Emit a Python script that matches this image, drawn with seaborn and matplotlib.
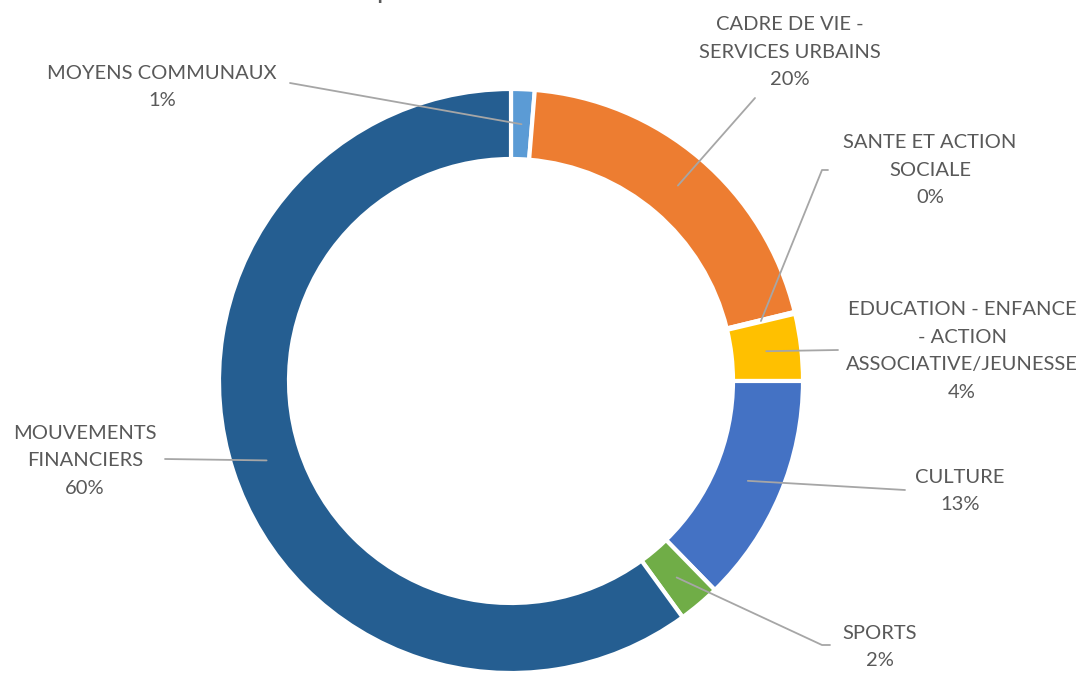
import numpy as np
import matplotlib
matplotlib.use("Agg")
from matplotlib import pyplot as plt
import seaborn as sns

categories = ["MOYENS COMMUNAUX", "CADRE DE VIE -\nSERVICES URBAINS", "SANTE ET ACTION\nSOCIALE",
              "EDUCATION - ENFANCE\n- ACTION\nASSOCIATIVE/JEUNESSE", "CULTURE", "SPORTS",
              "MOUVEMENTS\nFINANCIERS"]
values = [1.3, 19.9, 0.1, 3.7, 12.7, 2.3, 60.0]
pct_labels = ["1%", "20%", "0%", "4%", "13%", "2%", "60%"]
colors = ["#5B9BD5", "#ED7D31", "#A5A5A5", "#FFC000", "#4472C4", "#70AD47", "#255E91"]

sns.set_theme(style="white")
plt.rcParams["font.family"] = ["Lato", "DejaVu Sans"]

W, H = 1083, 675
fig = plt.figure(figsize=(W / 100, H / 100), dpi=100)
ax = fig.add_axes([0, 0, 1, 1])

cx, cy = 511, H - 381
r_out, ring = 292, 70
wedges, _ = ax.pie(values, colors=colors, startangle=90, counterclock=False,
                   center=(cx, cy), radius=r_out, frame=True,
                   wedgeprops=dict(width=ring, edgecolor="white", linewidth=3))
ax.set_xlim(0, W)
ax.set_ylim(0, H)
ax.set_aspect("equal")
ax.axis("off")

# label layout (image pixel coords of text centre, and where the leader line starts)
label_pos = [(162, 87), (790, 52), (930, 170), (962, 351), (960, 491), (880, 647), (85, 461)]
line_start = [(290, 83), (755, 98), (828, 170), (838, 350), (905, 490), (830, 645), (165, 459)]
line_kink = [None, None, (822, 170), None, None, (822, 645), None]

r_mid = r_out - ring / 2
grey_txt = "#595959"
for w, cat, pct, (lx, ly), (sx, sy), kink in zip(wedges, categories, pct_labels,
                                                 label_pos, line_start, line_kink):
    ang = np.deg2rad((w.theta1 + w.theta2) / 2)
    ex, ey = cx + r_mid * np.cos(ang), cy + r_mid * np.sin(ang)
    xs, ys = [sx], [H - sy]
    if kink is not None:
        xs.append(kink[0])
        ys.append(H - kink[1])
    xs.append(ex)
    ys.append(ey)
    ax.plot(xs, ys, color="#A6A6A6", lw=1.3, zorder=3)
    ax.text(lx, H - ly, cat + "\n" + pct, ha="center", va="center", fontsize=14.5,
            color=grey_txt, linespacing=1.75)

# title, clipped by the top of the picture as in the original
fig.text(0.47, 1.003, "Les comptes de fonctionnement 2019", ha="center", va="baseline",
         fontsize=20, color=grey_txt)

fig.savefig("out.png", dpi=100)
